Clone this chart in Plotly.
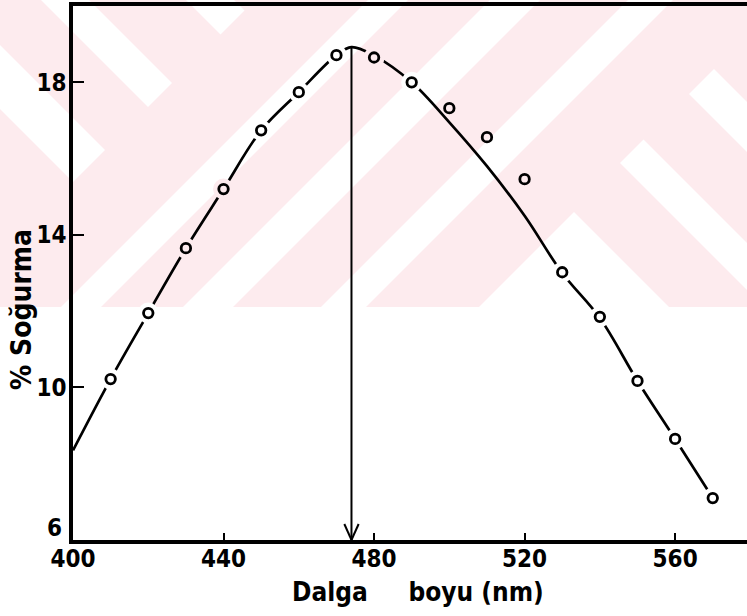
import plotly.graph_objects as go
import numpy as np

# ---- data -------------------------------------------------------------
# measured absorption (%) versus wavelength (nm)
WAVELENGTH_NM = [410, 420, 430, 440, 450, 460, 470, 480, 490, 500,
                 510, 520, 530, 540, 550, 560, 570]
ABSORPTION_PCT = [10.22, 11.95, 13.65, 15.20, 16.74, 17.74, 18.71, 18.65, 18.00, 17.32,
                  16.56, 15.46, 13.02, 11.85, 10.17, 8.65, 7.10]

# hand-fitted smooth curve through the measurements
CURVE_NM = [400, 410, 420, 430, 440, 450, 460, 470, 474, 480,
            490, 500, 510, 520, 530, 540, 550, 560, 570]
CURVE_PCT = [8.35, 10.22, 11.95, 13.65, 15.20, 16.74, 17.74, 18.71, 18.92, 18.70,
             18.00, 16.95, 15.80, 14.50, 13.00, 11.82, 10.17, 8.65, 7.10]

LAMBDA_MAX_NM = 474

X_TICKS = [400, 440, 480, 520, 560]
Y_TICKS = [6, 10, 14, 18]

X_TITLE = "Dalga\u00a0\u00a0\u00a0\u00a0\u00a0boyu (nm)"
Y_TITLE = "% Soğurma"

# ---- geometry / style -------------------------------------------------
W, H = 747, 616
ML, MR, MT, MB = 73, 0, 6, 76
X_RANGE = [400, 579.1]
Y_RANGE = [6, 20]
PW, PH = W - ML - MR, H - MT - MB

PINK = "#fdebee"
FONT = "DejaVu Sans Condensed, DejaVu Sans, sans-serif"


def to_px(xv, yv):
    px = ML + (xv - X_RANGE[0]) / (X_RANGE[1] - X_RANGE[0]) * PW
    py = MT + PH - (yv - Y_RANGE[0]) / (Y_RANGE[1] - Y_RANGE[0]) * PH
    return px, py


def px_to_paper(px, py):
    return (px - ML) / PW, (MT + PH - py) / PH


# background stamp: pale pink band with white diagonal stripes (pixel polygons)
STAMP_TOP, STAMP_BOTTOM = -20, 307
WHITE_STRIPES = [
    [(-60, -15), (105, 150), (73, 182), (-60, 49)],
    [(21, -20), (69, -20), (172, 83), (148, 107)],
    [(166, -20), (214, -20), (244.5, 10.5), (220.5, 34.5)],
    [(388, -20), (428, -20), (101, 307), (61, 307)],
    [(510, -20), (560, -20), (233, 307), (183, 307)],
    [(648, -20), (693, -20), (366, 307), (321, 307)],
    [(620, 163), (643.5, 139.5), (811, 307), (764, 307)],
    [(689, 94), (714, 69), (900, 255), (900, 305)],
    [(479, 307), (574, 212), (669, 307)],
]


def inside(poly, x, y):
    hit = False
    n = len(poly)
    for i in range(n):
        x1, y1 = poly[i]
        x2, y2 = poly[(i + 1) % n]
        if (y1 > y) != (y2 > y):
            xc = x1 + (y - y1) * (x2 - x1) / (y2 - y1)
            if x < xc:
                hit = not hit
    return hit


def background_at(px, py):
    if py > STAMP_BOTTOM:
        return "white"
    for poly in WHITE_STRIPES:
        if inside(poly, px, py):
            return "white"
    return PINK


def poly_path(poly):
    pts = [px_to_paper(px, py) for px, py in poly]
    return "M " + " L ".join(f"{a:.5f},{b:.5f}" for a, b in pts) + " Z"


shapes = []
x0p, y0p = px_to_paper(0, STAMP_TOP)
x1p, y1p = px_to_paper(W, STAMP_BOTTOM)
shapes.append(dict(type="rect", xref="paper", yref="paper", x0=x0p, x1=x1p,
                   y0=y1p, y1=y0p, fillcolor=PINK, line=dict(width=0), layer="below"))
for poly in WHITE_STRIPES:
    shapes.append(dict(type="path", xref="paper", yref="paper", path=poly_path(poly),
                       fillcolor="white", line=dict(width=0), layer="below"))

# arrow marking the absorption maximum
peak_val = float(np.interp(LAMBDA_MAX_NM, CURVE_NM, CURVE_PCT))
shapes.append(dict(type="line", xref="x", yref="y", x0=LAMBDA_MAX_NM, x1=LAMBDA_MAX_NM,
                   y0=peak_val, y1=Y_RANGE[0], line=dict(color="black", width=2)))
for side in (-1, 1):
    shapes.append(dict(type="line", xref="x", yref="y",
                       x0=LAMBDA_MAX_NM + side * 1.9, y0=Y_RANGE[0] + 0.42,
                       x1=LAMBDA_MAX_NM, y1=Y_RANGE[0],
                       line=dict(color="black", width=2)))

# gaps in the curve around measured points that sit on it
curve_at_pts = np.interp(WAVELENGTH_NM, CURVE_NM, CURVE_PCT)
halo_x, halo_y, halo_c = [], [], []
for xv, yv, cv in zip(WAVELENGTH_NM, ABSORPTION_PCT, curve_at_pts):
    if abs(yv - cv) < 0.15:
        px, py = to_px(xv, yv)
        halo_x.append(xv)
        halo_y.append(yv)
        halo_c.append(background_at(px, py))

fig = go.Figure()
fig.add_trace(go.Scatter(x=CURVE_NM, y=CURVE_PCT, mode="lines",
                         line=dict(color="black", width=2.7, shape="spline", smoothing=1.0),
                         hoverinfo="skip"))
fig.add_trace(go.Scatter(x=halo_x, y=halo_y, mode="markers",
                         marker=dict(size=21, color=halo_c, line=dict(width=0)),
                         hoverinfo="skip"))
fig.add_trace(go.Scatter(x=WAVELENGTH_NM, y=ABSORPTION_PCT, mode="markers",
                         marker=dict(symbol="circle-open", size=9.5, color="black",
                                     line=dict(width=2.8, color="black"))))

tick_font = dict(family=FONT, size=24, color="black", weight="bold")
# the lowest y label is lifted clear of the "400" label beneath it
y_ticktext = ["" if v == Y_TICKS[0] else str(v) for v in Y_TICKS]

fig.update_layout(
    width=W, height=H,
    margin=dict(l=ML, r=MR, t=MT, b=MB),
    paper_bgcolor="white", plot_bgcolor="rgba(0,0,0,0)",
    showlegend=False,
    shapes=shapes,
    xaxis=dict(range=X_RANGE, tickvals=X_TICKS, ticks="inside", ticklen=7, tickwidth=2,
               tickcolor="black", showline=True, linewidth=3.5, linecolor="black",
               mirror=True, showgrid=False, zeroline=False, tickfont=tick_font,
               ticklabelstandoff=-6),
    yaxis=dict(range=Y_RANGE, tickvals=Y_TICKS, ticktext=y_ticktext, ticks="inside",
               ticklen=11, tickwidth=2,
               tickcolor="black", showline=True, linewidth=3.5, linecolor="black",
               showgrid=False, zeroline=False, tickfont=tick_font, ticklabelstandoff=-2),
    annotations=[
        dict(text=str(Y_TICKS[0]), xref="paper", yref="y",
             x=px_to_paper(64, 0)[0], y=Y_TICKS[0], yshift=12,
             xanchor="right", yanchor="middle", showarrow=False,
             font=tick_font),
        dict(text=X_TITLE, xref="paper", yref="paper",
             x=px_to_paper(418, 0)[0], y=px_to_paper(0, 592)[1],
             xanchor="center", yanchor="middle", showarrow=False,
             font=dict(family=FONT, size=26, color="black", weight="bold")),
        dict(text=Y_TITLE, xref="paper", yref="paper", textangle=-90,
             x=px_to_paper(21, 0)[0], y=px_to_paper(0, 310)[1],
             xanchor="center", yanchor="middle", showarrow=False,
             font=dict(family=FONT, size=28, color="black", weight="bold")),
    ],
)

fig.write_html("out.html")
